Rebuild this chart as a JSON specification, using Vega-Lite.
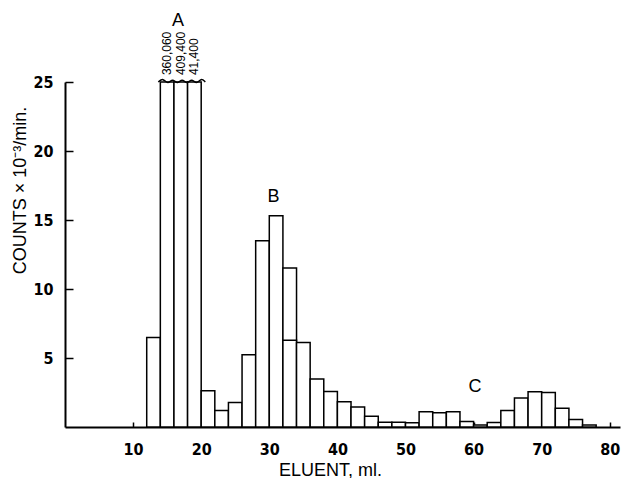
{
  "$schema": "https://vega.github.io/schema/vega-lite/v6.json",
  "width": 555,
  "height": 345,
  "autosize": {"type": "none"},
  "padding": {"left": 65, "top": 82, "right": 8, "bottom": 51},
  "background": "white",
  "config": {
    "view": {"stroke": null},
    "axis": {
      "domainColor": "black", "domainWidth": 2, "tickColor": "black", "tickWidth": 1.5,
      "grid": false, "labelColor": "black", "titleColor": "black",
      "labelFont": "Liberation Sans Narrow, DejaVu Sans Condensed, sans-serif",
      "labelFontWeight": "bold", "labelFontSize": 16,
      "titleFont": "Liberation Sans, sans-serif", "titleFontWeight": "normal", "titleFontSize": 18
    }
  },
  "datasets": {
    "bars": [
      {"x0": 12, "x1": 14, "v": 6.49},
      {"x0": 14, "x1": 16, "v": 25},
      {"x0": 16, "x1": 18, "v": 25},
      {"x0": 18, "x1": 20, "v": 25},
      {"x0": 20, "x1": 22, "v": 2.63},
      {"x0": 22, "x1": 24, "v": 1.2},
      {"x0": 24, "x1": 26, "v": 1.78},
      {"x0": 26, "x1": 28, "v": 5.24},
      {"x0": 28, "x1": 30, "v": 13.5},
      {"x0": 30, "x1": 32, "v": 15.3},
      {"x0": 32, "x1": 34, "v": 11.52},
      {"x0": 32, "x1": 34, "v": 6.28},
      {"x0": 34, "x1": 36, "v": 6.13},
      {"x0": 36, "x1": 38, "v": 3.48},
      {"x0": 38, "x1": 40, "v": 2.58},
      {"x0": 40, "x1": 42, "v": 1.83},
      {"x0": 42, "x1": 44, "v": 1.45},
      {"x0": 44, "x1": 46, "v": 0.77},
      {"x0": 46, "x1": 48, "v": 0.35},
      {"x0": 48, "x1": 50, "v": 0.35},
      {"x0": 50, "x1": 52, "v": 0.3},
      {"x0": 52, "x1": 54, "v": 1.1},
      {"x0": 54, "x1": 56, "v": 1.03},
      {"x0": 56, "x1": 58, "v": 1.1},
      {"x0": 58, "x1": 60, "v": 0.4},
      {"x0": 60, "x1": 62, "v": 0.15},
      {"x0": 62, "x1": 64, "v": 0.32},
      {"x0": 64, "x1": 66, "v": 1.2},
      {"x0": 66, "x1": 68, "v": 2.1},
      {"x0": 68, "x1": 70, "v": 2.55},
      {"x0": 70, "x1": 72, "v": 2.5},
      {"x0": 72, "x1": 74, "v": 1.35},
      {"x0": 74, "x1": 76, "v": 0.55},
      {"x0": 76, "x1": 78, "v": 0.15}
    ],
    "wave": [
      {"x": 13.7, "y": 25.0}, {"x": 14.4, "y": 25.3}, {"x": 15.1, "y": 24.8},
      {"x": 15.8, "y": 25.3}, {"x": 16.5, "y": 24.8}, {"x": 17.2, "y": 25.3},
      {"x": 17.9, "y": 24.8}, {"x": 18.6, "y": 25.3}, {"x": 19.3, "y": 24.8},
      {"x": 20.0, "y": 25.3}, {"x": 20.6, "y": 25.0}
    ],
    "nums": [
      {"x": 15, "y": 25.5, "t": "360,060"},
      {"x": 17, "y": 25.5, "t": "409,400"},
      {"x": 19, "y": 25.5, "t": "41,400"}
    ],
    "peaks": [
      {"x": 16.6, "y": 29.4, "t": "A"},
      {"x": 30.6, "y": 16.7, "t": "B"},
      {"x": 60.2, "y": 2.9, "t": "C"}
    ]
  },
  "layer": [
    {
      "data": {"name": "bars"},
      "mark": {"type": "rect", "fill": "white", "stroke": "black", "strokeWidth": 1.5},
      "encoding": {
        "x": {"field": "x0", "type": "quantitative",
          "scale": {"domain": [0, 81.5], "nice": false, "zero": false},
          "axis": {"title": "ELUENT, ml.", "values": [10, 20, 30, 40, 50, 60, 70, 80],
            "tickSize": -5, "labelPadding": 19,
            "titleX": 265, "titleY": 48, "titleAlign": "center", "titleBaseline": "alphabetic"}},
        "x2": {"field": "x1"},
        "y": {"field": "v", "type": "quantitative",
          "scale": {"domain": [0, 25], "nice": false},
          "axis": {"title": "COUNTS × 10⁻³/min.", "values": [5, 10, 15, 20, 25],
            "tickSize": -8, "labelPadding": 20,
            "titleX": -45, "titleY": 108, "titleAngle": 270, "titleAlign": "center", "titleBaseline": "middle"}},
        "y2": {"datum": 0}
      }
    },
    {
      "data": {"name": "wave"},
      "mark": {"type": "line", "color": "black", "strokeWidth": 1.5, "interpolate": "basis"},
      "encoding": {
        "x": {"field": "x", "type": "quantitative"},
        "y": {"field": "y", "type": "quantitative"}
      }
    },
    {
      "data": {"name": "nums"},
      "mark": {"type": "text", "angle": 270, "align": "left", "baseline": "middle",
        "font": "Liberation Sans, sans-serif", "fontSize": 12, "color": "black"},
      "encoding": {
        "x": {"field": "x", "type": "quantitative"},
        "y": {"field": "y", "type": "quantitative"},
        "text": {"field": "t"}
      }
    },
    {
      "data": {"name": "peaks"},
      "mark": {"type": "text", "align": "center", "baseline": "middle",
        "font": "Liberation Sans, sans-serif", "fontSize": 18, "color": "black"},
      "encoding": {
        "x": {"field": "x", "type": "quantitative"},
        "y": {"field": "y", "type": "quantitative"},
        "text": {"field": "t"}
      }
    }
  ]
}
